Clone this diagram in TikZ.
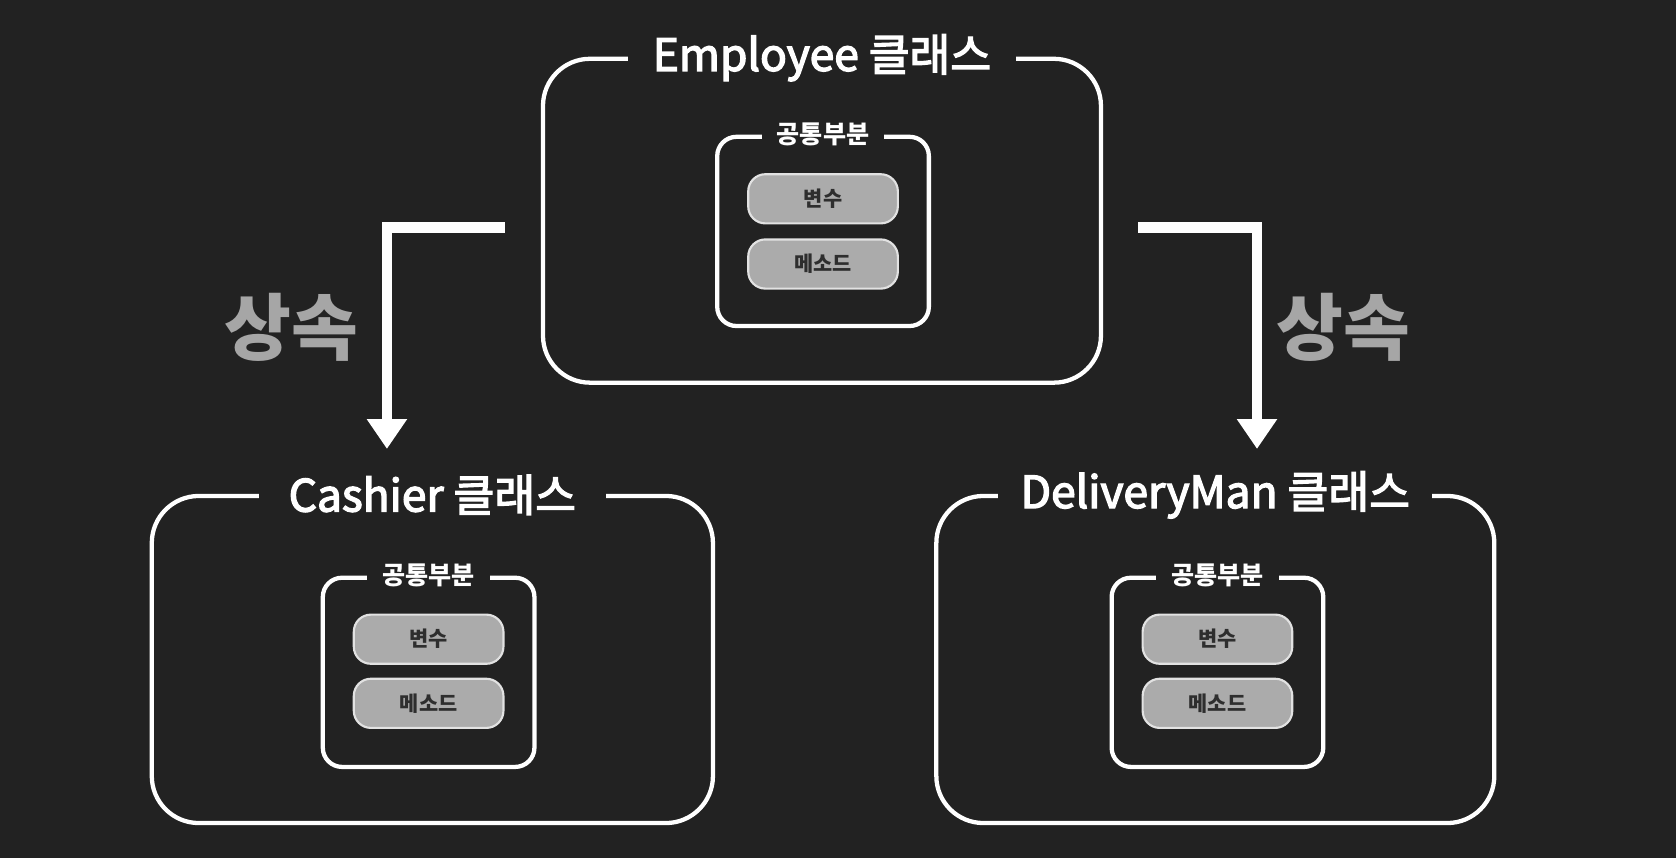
\documentclass[tikz,border=0pt]{standalone}
\usepackage{fontspec}
\setmainfont{Noto Sans CJK KR}
\newfontfamily\titlefont{Noto Sans CJK KR}[FakeBold=3]
\usetikzlibrary{arrows.meta,calc,positioning}
\definecolor{bgcol}{HTML}{222222}
\definecolor{pillfill}{HTML}{ABABAB}
\definecolor{pilldraw}{HTML}{E2E2E2}
\definecolor{pilltext}{HTML}{2E2E2E}
\definecolor{inhcol}{HTML}{A6A6A6}

\begin{document}
\begin{tikzpicture}[x=1pt,y=-1pt,
	classbox/.style={draw=white,line width=4pt,rounded corners=44pt,inner sep=0pt},
	partbox/.style={draw=white,line width=4pt,rounded corners=18pt,inner sep=0pt,minimum width=198pt,minimum height=177pt},
	pill/.style={draw=pilldraw,line width=2pt,fill=pillfill,rounded corners=16pt,minimum width=140pt,minimum height=46pt,text=pilltext,font=\fontsize{19.5}{22}\selectfont\bfseries},
	classtitle/.style={fill=bgcol,text=white,inner xsep=23pt,inner ysep=2pt,font=\titlefont\fontsize{41.5}{48}\selectfont},
	parttitle/.style={fill=bgcol,text=white,inner xsep=14pt,inner ysep=1pt,font=\fontsize{23.5}{27}\selectfont\bfseries},
	inherit/.style={draw=white,line width=10pt,-{Triangle[length=28pt,width=36pt]}},
	inhlabel/.style={text=inhcol,font=\fontsize{68}{76}\selectfont\bfseries}]
	\fill[bgcol] (0,0) rectangle (1568,803);
	\useasboundingbox (0,0) rectangle (1568,803);

	\node[classbox,minimum width=522pt,minimum height=303pt] (emp) at (769,206.5) {};
	\node[classbox,minimum width=525pt,minimum height=306pt] (cash) at (404.5,617) {};
	\node[classbox,minimum width=522pt,minimum height=306pt] (deli) at (1137,617) {};

	\node[partbox] (emppart) at (770,216.5) {};
	\node[partbox] (cashpart) at (401,629) {};
	\node[partbox] (delipart) at (1139,629) {};

	\node[classtitle] (emptitle) at ($(emp.north)+(0,1)$) {Employee 클래스};
	\node[classtitle,inner xsep=28pt] (cashtitle) at ($(cash.north)+(0,1)$) {Cashier 클래스};
	\node[classtitle,inner xsep=21pt] (delititle) at ($(deli.north)+(0,1)$) {DeliveryMan 클래스};

	\node[parttitle] (empparttitle) at (emppart.north) {공통부분};
	\node[parttitle] (cashparttitle) at (cashpart.north) {공통부분};
	\node[parttitle] (deliparttitle) at (delipart.north) {공통부분};

	\node[pill] (empvar) at ($(emppart.center)+(0,-30.5)$) {변수};
	\node[pill] (empmeth) at ($(emppart.center)+(0,30.5)$) {메소드};
	\node[pill] (cashvar) at ($(cashpart.center)+(0,-31)$) {변수};
	\node[pill] (cashmeth) at ($(cashpart.center)+(0,29)$) {메소드};
	\node[pill] (delivar) at ($(delipart.center)+(0,-31)$) {변수};
	\node[pill] (delimeth) at ($(delipart.center)+(0,29)$) {메소드};

	\coordinate (lstart) at (472,213);
	\coordinate (lend) at (362,420);
	\coordinate (rstart) at (1065,213);
	\coordinate (rend) at (1176,420);
	\draw[inherit] (lstart) -| (lend);
	\draw[inherit] (rstart) -| (rend);

	\node[inhlabel] (linh) at (273,306) {상속};
	\node[inhlabel] (rinh) at (1257,306) {상속};
\end{tikzpicture}
\end{document}
